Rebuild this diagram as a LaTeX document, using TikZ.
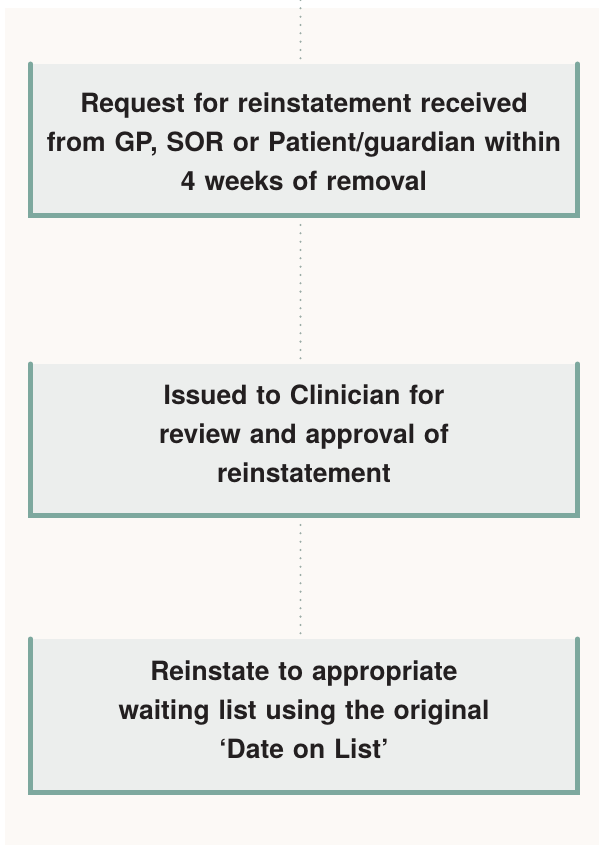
\documentclass[tikz,border=0pt]{standalone}
\usepackage{fontspec}
\setmainfont{TeX Gyre Heros}
\definecolor{cream}{RGB}{252,249,246}
\definecolor{boxfill}{RGB}{236,238,237}
\definecolor{railteal}{RGB}{125,168,158}
\definecolor{dotgrey}{RGB}{155,172,166}
\definecolor{ink}{RGB}{35,31,32}
\begin{document}
\begin{tikzpicture}[x=1pt,y=-1pt,
  boxframe/.style={draw=none, fill=boxfill, minimum width=552pt,
    inner sep=0pt, outer sep=0pt, anchor=north},
  boxtext/.style={anchor=north, text width=540pt, align=center,
    inner sep=0pt, text=ink,
    font=\bfseries\fontsize{26.5pt}{39pt}\selectfont},
  rail/.style={draw=railteal, line width=5pt, line cap=round, line join=miter},
  link/.style={draw=dotgrey, line width=2.3pt, line cap=round,
    dash pattern=on 0pt off 8.33pt}]
  % page and panel
  \useasboundingbox (0,0) rectangle (599,845);
  \fill[white] (0,0) rectangle (599,845);
  \fill[cream] (5,8) rectangle (599,845);

  % step boxes
  \node[boxframe, minimum height=154pt] (b1) at (304,64) {};
  \node[boxframe, minimum height=154pt] (b2) at (304,364) {};
  \node[boxframe, minimum height=156pt] (b3) at (304,639) {};

  % open-topped frames: side rails with rounded tops and a bottom bar
  \foreach \b in {b1,b2,b3} {
    \draw[rail] ([xshift=2.5pt]\b.north west)
      -- ([shift={(2.5pt,2.5pt)}]\b.south west)
      -- ([shift={(-2.5pt,2.5pt)}]\b.south east)
      -- ([xshift=-2.5pt]\b.north east);
  }

  % labels
  \node[boxtext] (t1) at (304,92) {\rule{0pt}{20pt}Request for reinstatement received\\
    from GP, SOR or Patient/guardian within\\ 4 weeks of removal};
  \node[boxtext] (t2) at (304,384) {\rule{0pt}{20pt}Issued to Clinician for\\
    review and approval of\\ reinstatement};
  \node[boxtext] (t3) at (304,660) {\rule{0pt}{20pt}Reinstate to appropriate\\
    waiting list using the original\\ `Date on List'};

  % dotted connectors
  \coordinate (top) at (300.5,0);
  \draw[link, shorten >=3pt] (top) -- (b1.north -| top);
  \draw[link, shorten <=7pt, shorten >=5pt] (b1.south -| top) -- (b2.north -| top);
  \draw[link, shorten <=7pt, shorten >=5pt] (b2.south -| top) -- (b3.north -| top);
\end{tikzpicture}
\end{document}
